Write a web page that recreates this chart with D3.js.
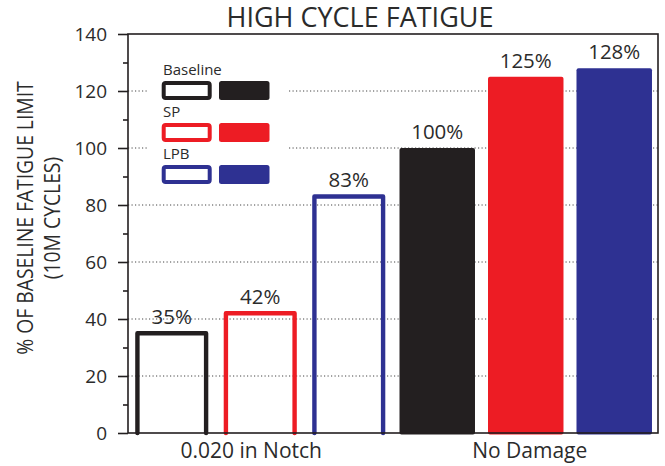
<!DOCTYPE html>
<html>
<head>
<meta charset="utf-8">
<script src="https://cdn.jsdelivr.net/npm/d3@7/dist/d3.min.js"></script>
<style>
  html, body { margin: 0; padding: 0; background: #fff; }
  svg { display: block; font-family: "Open Sans", "Noto Sans", sans-serif; }
</style>
</head>
<body>
<svg id="chart" width="665" height="466"></svg>
<script>
// ---- data ----
const groups = ["0.020 in Notch", "No Damage"];
const series = ["Baseline", "SP", "LPB"];
const notchValues = [35, 42, 83];        // damaged (open bars)
const noDamageValues = [100, 125, 128];  // undamaged (solid bars)
const seriesColors = ["#231f20", "#ed1c24", "#2e3192"];
const yMajorTicks = [0, 20, 40, 60, 80, 100, 120, 140];
const yMinorTicks = [10, 30, 50, 70, 90, 110, 130];
const titleText = "HIGH CYCLE FATIGUE";
const yTitleLines = ["% OF BASELINE FATIGUE LIMIT", "(10M CYCLES)"];

// ---- layout ----
const W = 665, H = 466;
const plot = { left: 128, right: 658, top: 34, bottom: 433 };
const ink = "#231f20";
const textInk = "#2b2b2b";

const svg = d3.select("#chart");

const bars = [];
groups.forEach((g, gi) => {
  const vals = gi === 0 ? notchValues : noDamageValues;
  series.forEach((s, si) => {
    bars.push({ key: g + "|" + s, group: g, series: s, value: vals[si],
                color: seriesColors[si], open: gi === 0 });
  });
});

const x = d3.scaleBand()
  .domain(bars.map(d => d.key))
  .range([plot.left, plot.right])
  .paddingInner(0.147)
  .paddingOuter(0.068);

const y = d3.scaleLinear().domain([0, 140]).range([plot.bottom, plot.top]);

// dotted gridlines
svg.append("g").selectAll("line")
  .data(yMajorTicks.filter(t => t > 0 && t < 140))
  .join("line")
  .attr("x1", plot.left).attr("x2", plot.right)
  .attr("y1", d => y(d)).attr("y2", d => y(d))
  .attr("stroke", "#444").attr("stroke-width", 1)
  .attr("stroke-dasharray", "1.2,2.3");

// legend (white panel hides the grid behind it)
const legend = svg.append("g");
legend.append("rect")
  .attr("x", 148).attr("y", 50).attr("width", 139).attr("height", 146)
  .attr("fill", "#fff");
series.forEach((s, i) => {
  const top = 81 + i * 42;
  legend.append("text")
    .attr("x", 163).attr("y", top - 6)
    .attr("font-size", 15).attr("fill", textInk)
    .text(s);
  legend.append("rect")
    .attr("x", 163.7).attr("y", top + 2).attr("width", 46).attr("height", 15)
    .attr("rx", 2).attr("fill", "#fff")
    .attr("stroke", seriesColors[i]).attr("stroke-width", 4);
  legend.append("rect")
    .attr("x", 219).attr("y", top).attr("width", 50.5).attr("height", 19)
    .attr("rx", 2.5).attr("fill", seriesColors[i]);
});

// bars
const bw = x.bandwidth();
const strokeW = 4.4;
const inset = 3.4;

// open bars: three-sided outline standing on the axis
svg.append("g").selectAll("path")
  .data(bars.filter(d => d.open))
  .join("path")
  .attr("d", d => {
    const p = d3.path();
    const x0 = x(d.key) + inset, x1 = x(d.key) + bw - inset;
    p.moveTo(x0, y(0));
    p.lineTo(x0, y(d.value));
    p.lineTo(x1, y(d.value));
    p.lineTo(x1, y(0));
    return p.toString();
  })
  .attr("fill", "none")
  .attr("stroke", d => d.color)
  .attr("stroke-width", strokeW)
  .attr("stroke-linejoin", "round")
  .attr("stroke-linecap", "round");

// solid bars
svg.append("g").selectAll("rect")
  .data(bars.filter(d => !d.open))
  .join("rect")
  .attr("x", d => x(d.key))
  .attr("y", d => y(d.value))
  .attr("width", bw)
  .attr("height", d => y(0) - y(d.value) + 1.5)
  .attr("rx", 2)
  .attr("fill", d => d.color);

// value labels
svg.append("g").selectAll("text")
  .data(bars)
  .join("text")
  .attr("x", d => x(d.key) + bw / 2)
  .attr("y", d => y(d.value) - 9)
  .attr("text-anchor", "middle")
  .attr("font-size", 20.5)
  .attr("fill", textInk)
  .text(d => d.value + "%");

// frame
svg.append("rect")
  .attr("x", plot.left).attr("y", plot.top)
  .attr("width", plot.right - plot.left).attr("height", plot.bottom - plot.top)
  .attr("fill", "none").attr("stroke", ink).attr("stroke-width", 1.6);

// y axis: major and minor ticks
const yAxis = svg.append("g")
  .attr("transform", `translate(${plot.left},0)`)
  .call(d3.axisLeft(y).tickValues(yMajorTicks).tickSize(10).tickPadding(11)
        .tickSizeOuter(0).tickFormat(d3.format("d")));
yAxis.select(".domain").remove();
yAxis.selectAll(".tick line").attr("stroke", ink).attr("stroke-width", 1.6);
yAxis.selectAll(".tick text")
  .attr("font-size", 19).attr("fill", textInk)
  .attr("font-family", "'Open Sans', sans-serif")
  .attr("dy", "0.357em");

const yMinor = svg.append("g")
  .attr("transform", `translate(${plot.left},0)`)
  .call(d3.axisLeft(y).tickValues(yMinorTicks).tickSize(5).tickFormat(""));
yMinor.select(".domain").remove();
yMinor.selectAll(".tick line").attr("stroke", ink).attr("stroke-width", 1.6);

// category labels, centred under each group of three bars
const xLabelNudge = [-9, 4];
svg.append("g").selectAll("text")
  .data(groups)
  .join("text")
  .attr("x", (g, i) => {
    const keys = bars.filter(d => d.group === g).map(d => d.key);
    const a = x(keys[0]), b = x(keys[keys.length - 1]) + bw;
    return (a + b) / 2 + xLabelNudge[i];
  })
  .attr("y", 458)
  .attr("text-anchor", "middle")
  .attr("font-size", 21)
  .attr("fill", textInk)
  .text(d => d);

// title
svg.append("text")
  .attr("x", 360).attr("y", 27)
  .attr("text-anchor", "middle")
  .attr("font-size", 27)
  .attr("fill", textInk)
  .text(titleText);

// rotated y-axis title (two lines), glyphs widened slightly
const yTitleBaselines = [33, 60];
yTitleLines.forEach((line, i) => {
  svg.append("g")
    .attr("transform", `translate(${yTitleBaselines[i]},218) scale(1.16,1) rotate(-90)`)
    .append("text")
    .attr("text-anchor", "middle")
    .attr("font-size", 19.3)
    .attr("fill", textInk)
    .text(line);
});
</script>
</body>
</html>
